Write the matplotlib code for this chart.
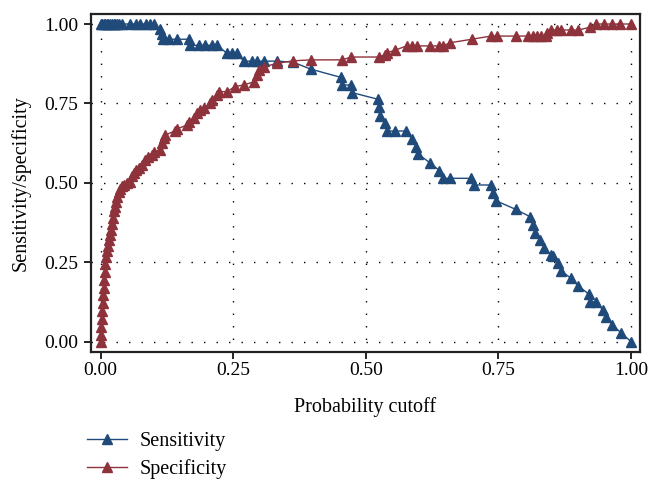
import matplotlib
matplotlib.use("Agg")
import matplotlib.pyplot as plt

plt.rcParams["font.family"] = ["Liberation Serif", "DejaVu Serif"]

# probability cutoff vs specificity (red)
spec_x = [0.000, 0.000, 0.001, 0.002, 0.003, 0.004, 0.005, 0.006, 0.007, 0.008,
          0.009, 0.010, 0.012, 0.014, 0.016, 0.018, 0.020, 0.022, 0.023, 0.025,
          0.027, 0.029, 0.031, 0.034, 0.037, 0.041, 0.044, 0.050, 0.056, 0.059,
          0.063, 0.066, 0.072, 0.078, 0.084, 0.090, 0.097, 0.100, 0.113, 0.116,
          0.119, 0.122, 0.141, 0.145, 0.163, 0.166, 0.176, 0.182, 0.188, 0.195,
          0.207, 0.210, 0.220, 0.223, 0.238, 0.254, 0.270, 0.289, 0.295, 0.298,
          0.308, 0.332, 0.363, 0.396, 0.455, 0.473, 0.525, 0.536, 0.541, 0.556,
          0.577, 0.588, 0.597, 0.621, 0.639, 0.646, 0.659, 0.700, 0.736, 0.747,
          0.783, 0.806, 0.815, 0.822, 0.830, 0.840, 0.841, 0.850, 0.860, 0.869,
          0.887, 0.901, 0.923, 0.935, 0.950, 0.965, 0.980, 1.000]
spec_y = [0.000, 0.020, 0.045, 0.070, 0.095, 0.120, 0.145, 0.170, 0.195, 0.220,
          0.245, 0.265, 0.285, 0.300, 0.320, 0.335, 0.350, 0.370, 0.390, 0.410,
          0.425, 0.440, 0.455, 0.470, 0.480, 0.490, 0.493, 0.500, 0.503, 0.520,
          0.530, 0.540, 0.548, 0.556, 0.572, 0.580, 0.587, 0.598, 0.603, 0.624,
          0.640, 0.650, 0.664, 0.670, 0.682, 0.692, 0.703, 0.719, 0.729, 0.734,
          0.750, 0.761, 0.776, 0.787, 0.787, 0.803, 0.808, 0.818, 0.839, 0.855,
          0.865, 0.876, 0.884, 0.887, 0.887, 0.896, 0.896, 0.903, 0.910, 0.918,
          0.931, 0.931, 0.931, 0.931, 0.931, 0.931, 0.941, 0.952, 0.962, 0.962,
          0.962, 0.962, 0.962, 0.962, 0.962, 0.962, 0.973, 0.981, 0.981, 0.981,
          0.981, 0.981, 0.990, 1.000, 1.000, 1.000, 1.000, 1.000]

# probability cutoff vs sensitivity (blue)
sens_x = [0.000, 0.003, 0.006, 0.009, 0.012, 0.015, 0.018, 0.021, 0.025, 0.028,
          0.031, 0.034, 0.040, 0.056, 0.066, 0.075, 0.085, 0.094, 0.100, 0.112,
          0.115, 0.118, 0.130, 0.145, 0.167, 0.169, 0.185, 0.197, 0.210, 0.220,
          0.238, 0.248, 0.257, 0.270, 0.286, 0.295, 0.308, 0.332, 0.363, 0.396,
          0.453, 0.455, 0.472, 0.474, 0.523, 0.525, 0.526, 0.536, 0.541, 0.556,
          0.576, 0.587, 0.595, 0.599, 0.621, 0.639, 0.645, 0.659, 0.698, 0.704,
          0.737, 0.739, 0.746, 0.783, 0.810, 0.815, 0.820, 0.828, 0.837, 0.849,
          0.853, 0.862, 0.868, 0.887, 0.901, 0.920, 0.923, 0.935, 0.947, 0.953,
          0.965, 0.981, 1.000]
sens_y = [1.000, 1.000, 1.000, 1.000, 1.000, 1.000, 1.000, 1.000, 1.000, 1.000,
          1.000, 1.000, 1.000, 1.000, 1.000, 1.000, 1.000, 1.000, 1.000, 0.983,
          0.970, 0.952, 0.952, 0.952, 0.952, 0.933, 0.933, 0.933, 0.933, 0.933,
          0.908, 0.908, 0.908, 0.883, 0.883, 0.883, 0.883, 0.883, 0.880, 0.858,
          0.832, 0.808, 0.808, 0.784, 0.763, 0.740, 0.711, 0.687, 0.663, 0.663,
          0.663, 0.638, 0.614, 0.590, 0.563, 0.538, 0.514, 0.514, 0.514, 0.493,
          0.493, 0.467, 0.443, 0.416, 0.393, 0.367, 0.343, 0.320, 0.296, 0.272,
          0.270, 0.246, 0.223, 0.199, 0.175, 0.150, 0.125, 0.125, 0.099, 0.078,
          0.052, 0.028, 0.000]

ticks = [0.0, 0.25, 0.5, 0.75, 1.0]
tick_labels = ["0.00", "0.25", "0.50", "0.75", "1.00"]

blue = "#1f4a7a"
red = "#8e323c"

fig = plt.figure(figsize=(6.48, 4.83), dpi=100)
ax = fig.add_axes([0.1404, 0.2712, 0.8472, 0.7008])

ax.plot(sens_x, sens_y, color=blue, lw=1, marker="^", ms=7.5,
        label="Sensitivity", zorder=3)
ax.plot(spec_x, spec_y, color=red, lw=1, marker="^", ms=7.5,
        label="Specificity", zorder=3)

ax.set_xlim(-0.018, 1.017)
ax.set_ylim(-0.033, 1.033)
ax.set_xticks(ticks, tick_labels)
ax.set_yticks(ticks, tick_labels)
ax.tick_params(direction="out", length=5, width=1.2, labelsize=14)
ax.tick_params(axis="x", pad=2)
ax.tick_params(axis="y", pad=4)
ax.grid(True, color="black", lw=1, linestyle=(0, (1, 8)))
for s in ax.spines.values():
    s.set_linewidth(1.6)
    s.set_color("#222222")

ax.set_xlabel("Probability cutoff", fontsize=14.5, labelpad=13)
ax.set_ylabel("Sensitivity/specificity", fontsize=14.5, labelpad=10)

fig.legend(loc="upper left", bbox_to_anchor=(0.134, 0.105), frameon=False,
           fontsize=14.5, handlelength=2.0, handletextpad=0.6,
           labelspacing=0.4, borderpad=0, borderaxespad=0)

fig.savefig("out.png", dpi=100)
